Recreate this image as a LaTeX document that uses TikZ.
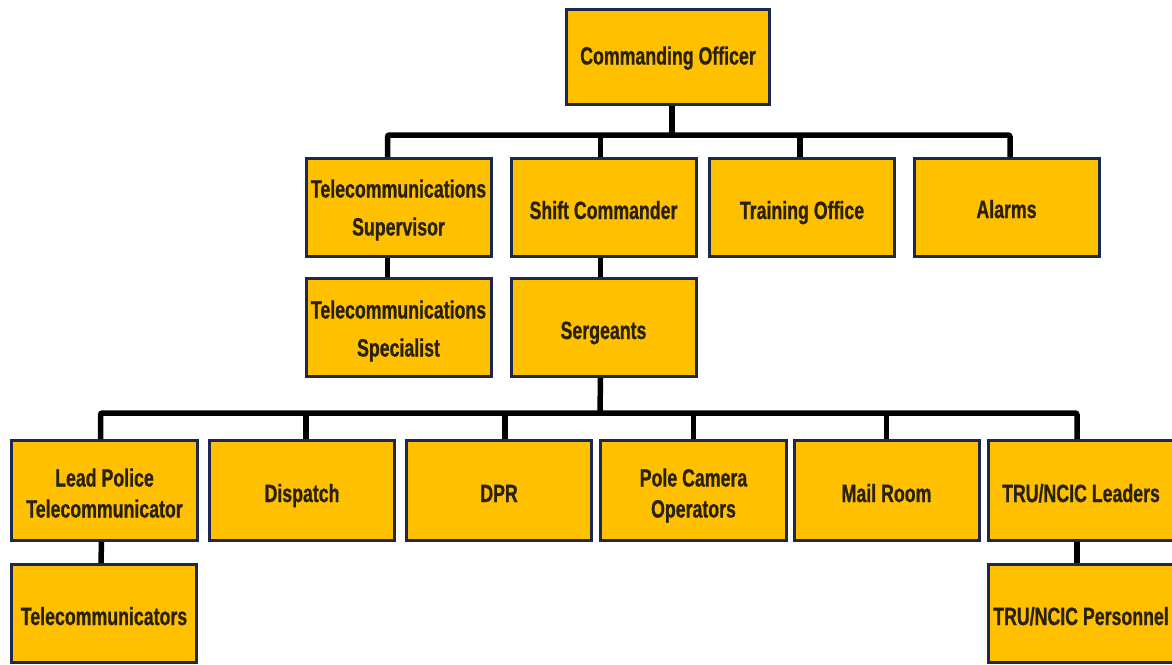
\documentclass[tikz,border=0pt]{standalone}
\usepackage{fontspec}
\newfontfamily\orgfont{Liberation Sans}[FakeStretch=0.71, FakeBold=0.8]
\definecolor{boxfill}{HTML}{FFC000}
\definecolor{boxedge}{HTML}{1C2850}
\definecolor{boxtext}{HTML}{2A2208}
% vertical placement of the labels: the cap line is centred in the box,
% then moved down by \txtdrop minus half the cap height
\newcommand\txtdrop{11.5pt}
\newcommand\oneline[1]{\raisebox{-\txtdrop}{#1}}
\newcommand\twoline[2]{\raisebox{\dimexpr0.5\baselineskip-\txtdrop\relax}{%
  \begin{tabular}[t]{@{}c@{}}#1\\#2\end{tabular}}}
\begin{document}
\begin{tikzpicture}[x=1pt,y=-1pt,
  unit/.style={draw=boxedge, fill=boxfill, line width=3pt, inner sep=0pt,
    minimum width=185pt, minimum height=98pt,
    text height=0pt, text depth=0pt,
    text=boxtext, font=\orgfont\bfseries\fontsize{25}{38}\selectfont},
  lowunit/.style={unit, minimum height=100pt,
    font=\orgfont\bfseries\fontsize{25}{31}\selectfont},
  textdrop/.code={\def\txtdrop{#1}},
  conn/.style={draw=black, line width=5.5pt, rounded corners=2pt}]
\useasboundingbox (0,0) rectangle (1172,664);
\clip (0,0) rectangle (1172,664);

% command level
\node[unit, minimum width=203pt, minimum height=95pt, textdrop=7.5pt] (co) at (668,57) {\oneline{Commanding Officer}};

% second level
\node[unit, textdrop=9pt] (ts) at (398.5,207.5) {\twoline{Telecommunications}{Supervisor}};
\node[unit] (sc) at (603.5,207.5) {\oneline{Shift Commander}};
\node[unit] (to) at (802,207.5) {\oneline{Training Office}};
\node[unit, textdrop=10.5pt] (al) at (1006.5,207.5) {\oneline{Alarms}};

% third level
\node[unit, textdrop=10pt] (tsp) at (398.5,327.5) {\twoline{Telecommunications}{Specialist}};
\node[unit] (sg) at (603.5,327.5) {\oneline{Sergeants}};

% operations units
\node[lowunit, minimum width=186pt] (lp) at (104.5,490.5) {\twoline{Lead Police}{Telecommunicator}};
\node[lowunit] (di) at (302,490.5) {\oneline{Dispatch}};
\node[lowunit] (dpr) at (499,490.5) {\oneline{DPR}};
\node[lowunit, minimum width=186pt] (pc) at (693.5,490.5) {\twoline{Pole Camera}{Operators}};
\node[lowunit] (mr) at (886.5,490.5) {\oneline{Mail Room}};
\node[lowunit] (tru) at (1081,490.5) {\oneline{TRU/NCIC Leaders}};

% staff under the operations units
\node[unit] (tc) at (104,613.5) {\oneline{Telecommunicators}};
\node[unit] (trp) at (1081,613.5) {\oneline{TRU/NCIC Personnel}};

% upper bus
\coordinate (bus1) at (672,135);
\draw[conn] ([xshift=4pt]co.south) -- (bus1);
\draw[conn] ([xshift=-11pt]ts.north) |- (bus1) -| ([xshift=3.5pt]al.north);
\draw[conn] ([xshift=-3pt]sc.north) -- ([xshift=-3pt]sc.north |- bus1);
\draw[conn] ([xshift=-2pt]to.north) -- ([xshift=-2pt]to.north |- bus1);

% short links
\draw[conn] ([xshift=-11pt]ts.south) -- ([xshift=-11pt]tsp.north);
\draw[conn] ([xshift=-3pt]sc.south) -- ([xshift=-3pt]sg.north);
\draw[conn] ([xshift=-3pt]lp.south) -- ([xshift=-3pt]tc.north);
\draw[conn] ([xshift=-4pt]tru.south) -- ([xshift=-4pt]trp.north);

% lower bus
\coordinate (bus2) at (600,413);
\draw[conn] ([xshift=-3pt]sg.south) -- (bus2);
\draw[conn] ([xshift=-4pt]lp.north) |- (bus2) -| ([xshift=-4pt]tru.north);
\draw[conn] ([xshift=4pt]di.north) -- ([xshift=4pt]di.north |- bus2);
\draw[conn] ([xshift=6pt]dpr.north) -- ([xshift=6pt]dpr.north |- bus2);
\draw[conn] (pc.north) -- (pc.north |- bus2);
\draw[conn] (mr.north) -- (mr.north |- bus2);
\end{tikzpicture}
\end{document}
